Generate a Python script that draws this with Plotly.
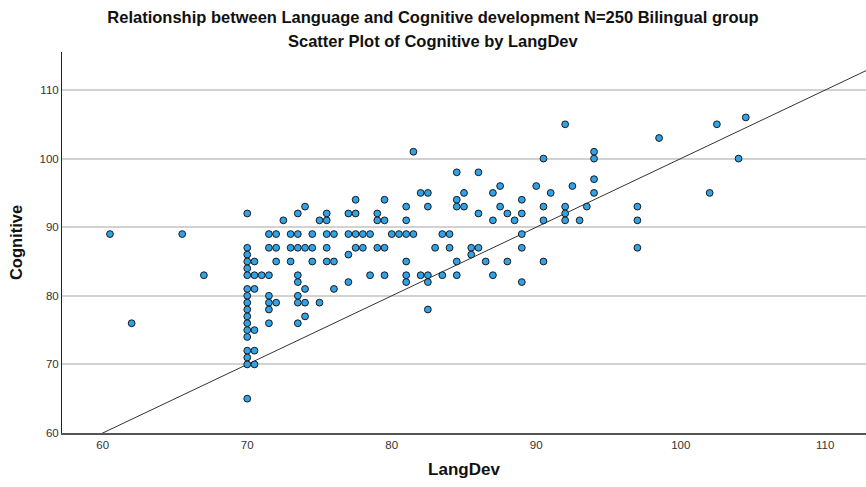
import plotly.graph_objects as go

# LangDev / Cognitive scores for the bilingual group
lang_dev = [
    60.5, 62, 65.5, 67,
    70, 70, 70, 70, 70, 70, 70, 70, 70, 70, 70, 70, 70, 70, 70, 70, 70, 70,
    70.5, 70.5, 70.5, 70.5, 70.5, 70.5,
    71,
    71.5, 71.5, 71.5, 71.5, 71.5, 71.5, 71.5,
    72, 72, 72, 72,
    72.5,
    73, 73, 73,
    73.5, 73.5, 73.5, 73.5, 73.5, 73.5, 73.5, 73.5,
    74, 74, 74, 74, 74,
    74.5, 74.5, 74.5,
    75, 75,
    75.5, 75.5, 75.5, 75.5, 75.5,
    76, 76, 76,
    77, 77, 77, 77,
    77.5, 77.5, 77.5, 77.5,
    78, 78,
    78.5, 78.5,
    79, 79, 79,
    79.5, 79.5, 79.5, 79.5,
    80, 80.5,
    81, 81, 81, 81, 81, 81,
    81.5, 81.5,
    82, 82,
    82.5, 82.5, 82.5, 82.5, 82.5,
    83,
    83.5, 83.5,
    84, 84,
    84.5, 84.5, 84.5, 84.5, 84.5,
    85, 85,
    85.5, 85.5,
    86, 86, 86,
    86.5,
    87, 87, 87,
    87.5, 87.5,
    88, 88,
    88.5,
    89, 89, 89, 89, 89,
    90,
    90.5, 90.5, 90.5, 90.5,
    91,
    92, 92, 92, 92,
    92.5, 93, 93.5,
    94, 94, 94, 94,
    97, 97, 97,
    98.5, 102, 102.5, 104, 104.5,
]
cognitive = [
    89, 76, 89, 83,
    92, 87, 86, 85, 84, 83, 81, 80, 79, 78, 77, 76, 75, 74, 72, 71, 70, 65,
    85, 83, 81, 75, 72, 70,
    83,
    89, 87, 83, 80, 79, 78, 76,
    89, 87, 85, 79,
    91,
    89, 87, 85,
    92, 89, 87, 83, 82, 80, 79, 76,
    93, 87, 81, 79, 77,
    89, 87, 85,
    91, 79,
    92, 91, 89, 87, 85,
    89, 85, 81,
    92, 89, 86, 82,
    94, 92, 89, 87,
    89, 87,
    89, 83,
    92, 91, 87,
    94, 91, 87, 83,
    89, 89,
    93, 91, 89, 85, 83, 82,
    101, 89,
    95, 83,
    95, 93, 83, 82, 78,
    87,
    89, 83,
    89, 87,
    98, 94, 93, 85, 83,
    95, 93,
    87, 86,
    98, 92, 87,
    85,
    95, 91, 83,
    96, 93,
    92, 85,
    91,
    94, 92, 89, 87, 82,
    96,
    100, 93, 91, 85,
    95,
    105, 93, 92, 91,
    96, 91, 93,
    101, 100, 97, 95,
    93, 91, 87,
    103, 95, 105, 100, 106,
]

x_range = [57.18, 112.82]
y_range = [60, 115.54]
y_ticks = [60, 70, 80, 90, 100, 110]
x_ticks = [60, 70, 80, 90, 100, 110]

FONT = "Liberation Sans, Arial, sans-serif"

fig = go.Figure()

# y = x reference line across the full axis range
fig.add_trace(go.Scatter(
    x=x_range, y=x_range, mode="lines",
    line=dict(color="#333333", width=1),
    hoverinfo="skip", showlegend=False,
))

fig.add_trace(go.Scatter(
    x=lang_dev, y=cognitive, mode="markers",
    marker=dict(size=6.8, color="#30A2E8",
                line=dict(color="#1a1a1a", width=1)),
    showlegend=False, cliponaxis=False,
))

fig.update_layout(
    width=866, height=487,
    margin=dict(l=62, r=0, t=52, b=54),
    paper_bgcolor="white", plot_bgcolor="white",
    font=dict(family=FONT, color="#222222"),
    title=dict(
        text="<b>Relationship between Language and Cognitive development N=250 Bilingual group</b>",
        x=0.5, xref="container", xanchor="center",
        y=1 - 17 / 487, yref="container", yanchor="middle",
        font=dict(size=16.5, family=FONT, color="#111111"),
    ),
    annotations=[dict(
        text="<b>Scatter Plot of Cognitive by LangDev</b>",
        xref="paper", yref="paper",
        x=(433 - 62) / 804, y=(433 - 41) / 381,
        xanchor="center", yanchor="middle", showarrow=False,
        font=dict(size=16.5, family=FONT, color="#111111"),
    )],
    xaxis=dict(
        range=x_range, tickvals=x_ticks, showgrid=False, zeroline=False,
        showline=True, linecolor="#555555", linewidth=1.5,
        ticks="", tickfont=dict(size=11.5, color="#333333"),
        title=dict(text="<b>LangDev</b>", font=dict(size=17, color="#111111"),
                   standoff=14),
    ),
    yaxis=dict(
        range=y_range, tickvals=y_ticks, showgrid=True,
        gridcolor="#d2d2d2", gridwidth=1.5, zeroline=False,
        showline=True, linecolor="#222222", linewidth=1,
        ticks="", tickfont=dict(size=11.5, color="#333333"),
        title=dict(text="<b>Cognitive</b>", font=dict(size=16.5, color="#111111"),
                   standoff=12),
    ),
)

fig.write_html("out.html")
